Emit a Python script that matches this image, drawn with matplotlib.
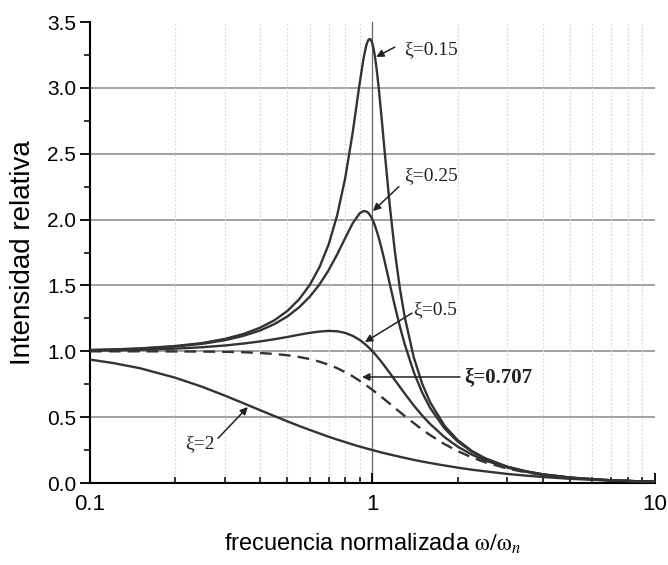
import matplotlib
matplotlib.use("Agg")
import matplotlib.pyplot as plt
from matplotlib.ticker import FixedLocator, NullFormatter, MultipleLocator

plt.rcParams['font.family'] = ['Liberation Sans', 'DejaVu Sans']
plt.rcParams['mathtext.fontset'] = 'stix'

# normalized frequency (omega / omega_n)
freq = [0.1, 0.12, 0.15, 0.2, 0.25, 0.3, 0.35, 0.4, 0.45, 0.5,
        0.55, 0.6, 0.65, 0.7, 0.75, 0.8, 0.85, 0.9, 0.93, 0.95,
        0.96, 0.97, 0.98, 0.99, 1.0, 1.01, 1.02, 1.035, 1.05, 1.075,
        1.1, 1.15, 1.2, 1.25, 1.3, 1.4, 1.5, 1.6, 1.8, 2.0,
        2.25, 2.5, 3.0, 3.5, 4.0, 5.0, 6.0, 7.0, 8.5, 10.0]

amp_015 = [1.010, 1.014, 1.022, 1.040, 1.063, 1.094, 1.132, 1.179, 1.236, 1.307,
           1.395, 1.504, 1.641, 1.813, 2.033, 2.311, 2.653, 3.029, 3.226, 3.320,
           3.350, 3.368, 3.371, 3.360, 3.333, 3.293, 3.240, 3.139, 3.019, 2.793,
           2.557, 2.118, 1.759, 1.479, 1.262, 0.954, 0.753, 0.613, 0.434, 0.327,
           0.243, 0.189, 0.124, 0.089, 0.067, 0.042, 0.029, 0.021, 0.014, 0.010]
amp_025 = [1.009, 1.013, 1.020, 1.036, 1.057, 1.084, 1.118, 1.158, 1.207, 1.265,
           1.334, 1.415, 1.509, 1.617, 1.736, 1.858, 1.970, 2.047, 2.065, 2.062,
           2.056, 2.047, 2.034, 2.019, 2.000, 1.979, 1.955, 1.914, 1.870, 1.787,
           1.699, 1.517, 1.344, 1.189, 1.055, 0.842, 0.686, 0.570, 0.414, 0.316,
           0.237, 0.185, 0.123, 0.088, 0.066, 0.041, 0.029, 0.021, 0.014, 0.010]
amp_05 = [1.005, 1.007, 1.011, 1.020, 1.031, 1.044, 1.059, 1.075, 1.092, 1.109,
          1.126, 1.140, 1.150, 1.155, 1.152, 1.140, 1.118, 1.087, 1.064, 1.047,
          1.038, 1.029, 1.020, 1.010, 1.000, 0.990, 0.980, 0.964, 0.948, 0.921,
          0.893, 0.837, 0.782, 0.730, 0.680, 0.589, 0.512, 0.448, 0.348, 0.277,
          0.215, 0.172, 0.117, 0.085, 0.064, 0.041, 0.028, 0.021, 0.014, 0.010]
amp_0707 = [1.000, 1.000, 1.000, 0.999, 0.998, 0.996, 0.993, 0.987, 0.980, 0.970,
            0.957, 0.941, 0.921, 0.898, 0.872, 0.842, 0.811, 0.777, 0.756, 0.742,
            0.735, 0.728, 0.721, 0.714, 0.707, 0.700, 0.693, 0.682, 0.672, 0.654,
            0.637, 0.603, 0.570, 0.539, 0.509, 0.455, 0.406, 0.364, 0.295, 0.243,
            0.194, 0.158, 0.110, 0.081, 0.062, 0.040, 0.028, 0.020, 0.014, 0.010]
amp_2 = [0.937, 0.912, 0.872, 0.800, 0.730, 0.664, 0.605, 0.553, 0.508, 0.468,
         0.433, 0.403, 0.376, 0.351, 0.330, 0.311, 0.293, 0.277, 0.269, 0.263,
         0.260, 0.258, 0.255, 0.253, 0.250, 0.248, 0.245, 0.242, 0.238, 0.232,
         0.227, 0.217, 0.208, 0.199, 0.191, 0.176, 0.163, 0.152, 0.133, 0.117,
         0.101, 0.089, 0.069, 0.056, 0.046, 0.032, 0.024, 0.018, 0.013, 0.009]

y_ticks = [0.0, 0.5, 1.0, 1.5, 2.0, 2.5, 3.0, 3.5]
x_ticks = [0.1, 1, 10]
x_tick_labels = ["0.1", "1", "10"]

fig = plt.figure(figsize=(6.68, 5.65), dpi=100)
ax = fig.add_axes([0.1347, 0.1451, 0.8458, 0.8159])

line_color = '#333333'
ax.plot(freq, amp_015, color=line_color, lw=1.7, zorder=3)
ax.plot(freq, amp_025, color=line_color, lw=1.7, zorder=3)
ax.plot(freq, amp_05, color=line_color, lw=1.7, zorder=3)
ax.plot(freq, amp_0707, color=line_color, lw=1.7, dashes=(5, 3), zorder=3)
ax.plot(freq, amp_2, color=line_color, lw=1.7, zorder=3)

ax.set_xscale('log')
ax.set_xlim(0.1, 10)
ax.set_ylim(0, 3.5)

# grid
for yv in y_ticks[1:-1]:
    ax.axhline(yv, color='#9a9a9a', lw=1.3, zorder=1)
minor_x = [0.2, 0.3, 0.4, 0.5, 0.6, 0.7, 0.8, 0.9, 2, 3, 4, 5, 6, 7, 8, 9]
for xv in minor_x:
    ax.axvline(xv, color='#d8d8d8', lw=0.9, ls=(0, (1.5, 1.5)), zorder=1)
ax.axvline(1, color='#666666', lw=0.9, zorder=1)

ax.spines['top'].set_visible(False)
ax.spines['right'].set_visible(False)
ax.spines['left'].set_linewidth(1.5)
ax.spines['bottom'].set_linewidth(1.5)

ax.xaxis.set_major_locator(FixedLocator(x_ticks))
ax.set_xticklabels(x_tick_labels)
ax.xaxis.set_minor_locator(FixedLocator(minor_x))
ax.xaxis.set_minor_formatter(NullFormatter())
ax.yaxis.set_major_locator(FixedLocator(y_ticks))
ax.set_yticklabels([f"{v:.1f}" for v in y_ticks])
ax.yaxis.set_minor_locator(MultipleLocator(0.25))

ax.tick_params(axis='x', which='major', direction='in', length=7, width=1.3,
               labelsize=16, pad=8)
ax.tick_params(axis='x', which='minor', direction='in', length=4, width=1.1)
ax.tick_params(axis='y', which='major', direction='out', length=7, width=1.3,
               labelsize=15, pad=3)
ax.tick_params(axis='y', which='minor', direction='out', length=4, width=1.1)

ax.set_xlabel("frecuencia normalizada " + r"$\mathrm{\omega/\omega}_{n}$", fontsize=17, labelpad=12)
ax.set_ylabel("Intensidad relativa", fontsize=20, labelpad=8)

serif = ['Liberation Serif', 'DejaVu Serif']
arrow = dict(arrowstyle='-|>', lw=1.1, color='#222222', mutation_scale=11,
             shrinkA=0, shrinkB=0)

ax.annotate('', xy=(1.03, 3.235), xytext=(1.20, 3.31), arrowprops=arrow)
ax.text(1.29, 3.29, 'ξ=0.15', fontsize=14, family=serif, ha='left', va='center', color='#222222')

ax.annotate('', xy=(1.004, 2.065), xytext=(1.24, 2.25), arrowprops=arrow)
ax.text(1.29, 2.33, 'ξ=0.25', fontsize=14, family=serif, ha='left', va='center', color='#222222')

ax.annotate('', xy=(0.94, 1.07), xytext=(1.38, 1.29), arrowprops=arrow)
ax.text(1.39, 1.32, 'ξ=0.5', fontsize=14, family=serif, ha='left', va='center', color='#222222')

ax.annotate('', xy=(0.918, 0.805), xytext=(2.04, 0.805), arrowprops=arrow)
ax.text(2.12, 0.805, 'ξ=0.707', fontsize=15, family=serif, fontweight='bold',
        ha='left', va='center', color='#222222')

ax.annotate('', xy=(0.362, 0.577), xytext=(0.284, 0.34), arrowprops=arrow)
ax.text(0.217, 0.30, 'ξ=2', fontsize=14, family=serif, ha='left', va='center', color='#222222')

fig.savefig('out.png', dpi=100)
